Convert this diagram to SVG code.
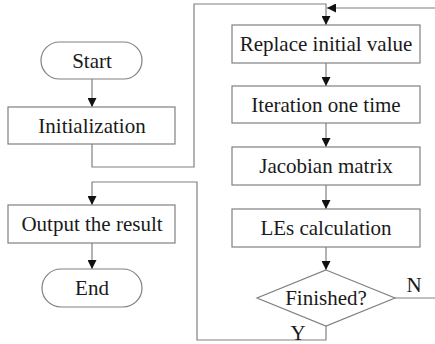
<svg xmlns="http://www.w3.org/2000/svg" width="435" height="344" viewBox="0 0 435 344">
<defs>
<marker id="ah" viewBox="0 0 10 10" refX="10" refY="5" markerWidth="9" markerHeight="9" markerUnits="userSpaceOnUse" orient="auto">
<path d="M0,0 L10,5 L0,10 Z" fill="#111"/>
</marker>
</defs>
<style>
.box{fill:#fff;stroke:#808080;stroke-width:1.2}
.ln{fill:none;stroke:#808080;stroke-width:1.2}
text{font-family:'Liberation Serif','DejaVu Serif',serif;font-size:21px;fill:#1a1a1a;text-anchor:middle}
</style>
<rect width="435" height="344" fill="#fff"/>
<g id="connectors">
<line class="ln" x1="92" y1="79" x2="92" y2="107" marker-end="url(#ah)"/>
<polyline class="ln" points="92,144 92,167 194,167 194,4 326,4 326,25" marker-end="url(#ah)"/>
<polyline class="ln" points="435,8 327,8" marker-end="url(#ah)"/>
<line class="ln" x1="326" y1="63" x2="326" y2="86" marker-end="url(#ah)"/>
<line class="ln" x1="326" y1="123" x2="326" y2="147" marker-end="url(#ah)"/>
<line class="ln" x1="326" y1="185" x2="326" y2="209" marker-end="url(#ah)"/>
<line class="ln" x1="326" y1="247" x2="326" y2="270" marker-end="url(#ah)"/>
<line class="ln" x1="395" y1="298" x2="435" y2="298"/>
<polyline class="ln" points="326,326 326,340 197,340 197,182 92,182 92,205" marker-end="url(#ah)"/>
<line class="ln" x1="92" y1="243" x2="92" y2="269" marker-end="url(#ah)"/>
<text x="414" y="292">N</text>
<text x="298" y="340">Y</text>
</g>
<g id="start"><rect class="box" x="41" y="42" width="101" height="37" rx="18.5"/><text x="92" y="67.5">Start</text></g>
<g id="init"><rect class="box" x="8" y="107" width="167" height="37"/><text x="92" y="132.5">Initialization</text></g>
<g id="replace"><rect class="box" x="232" y="25" width="188" height="38"/><text x="326" y="51">Replace initial value</text></g>
<g id="iteration"><rect class="box" x="232" y="86" width="188" height="37"/><text x="326" y="111.5">Iteration one time</text></g>
<g id="jacobian"><rect class="box" x="232" y="147" width="188" height="38"/><text x="326" y="173">Jacobian matrix</text></g>
<g id="les"><rect class="box" x="232" y="209" width="188" height="38"/><text x="326" y="235">LEs calculation</text></g>
<g id="finished"><polygon class="box" points="326,270 395,298 326,326 257,298"/><text x="326" y="305">Finished?</text></g>
<g id="output"><rect class="box" x="8" y="205" width="167" height="38"/><text x="92" y="231">Output the result</text></g>
<g id="end"><rect class="box" x="42" y="269" width="100" height="38" rx="19"/><text x="92" y="295">End</text></g>
</svg>
